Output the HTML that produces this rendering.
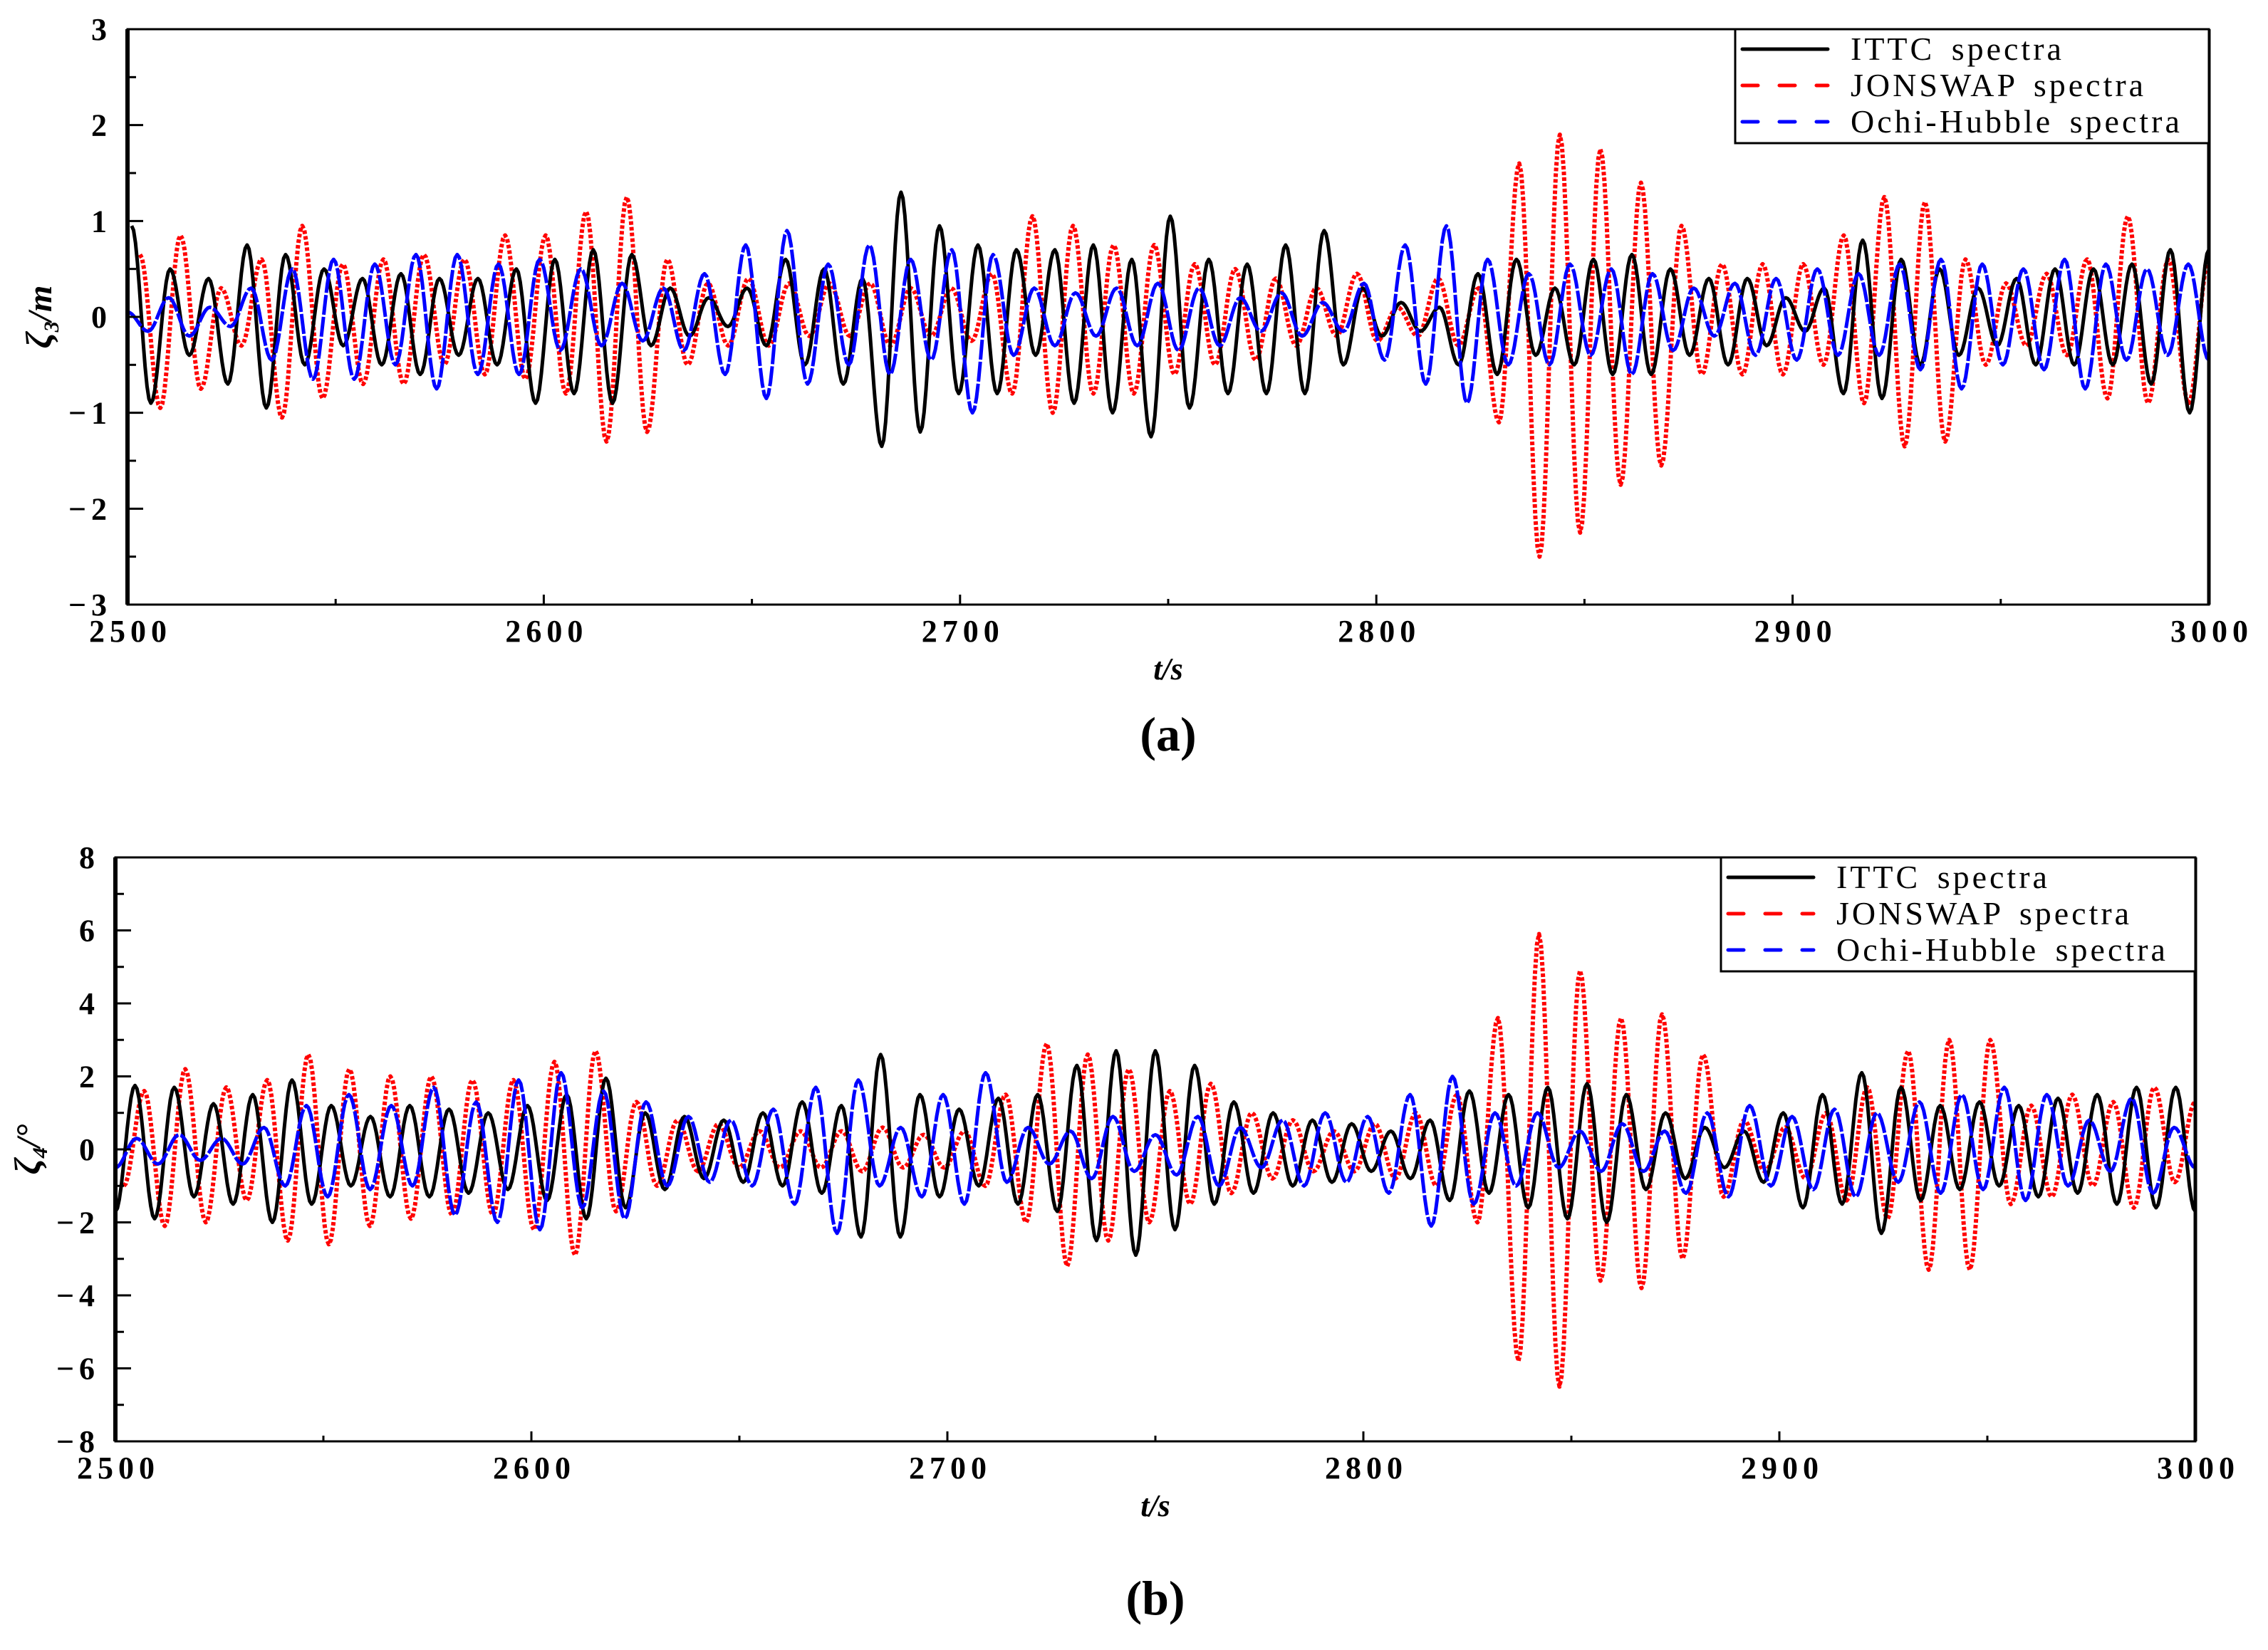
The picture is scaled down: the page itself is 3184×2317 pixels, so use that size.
<!DOCTYPE html>
<html><head><meta charset="utf-8">
<style>
html,body{margin:0;padding:0;background:#fff;}
svg{display:block;}
.tick{font-family:"Liberation Serif",serif;font-weight:bold;font-size:44px;letter-spacing:7px;fill:#000;}
.leg{font-family:"Liberation Serif",serif;font-size:46px;letter-spacing:4px;word-spacing:8px;fill:#000;}
.ttl{font-family:"Liberation Serif",serif;font-weight:bold;font-style:italic;font-size:44px;fill:#000;}
.cap{font-family:"Liberation Serif",serif;font-weight:bold;font-size:68px;fill:#000;}
</style></head>
<body>
<svg id="chart" width="3184" height="2317" viewBox="0 0 3184 2317" xmlns="http://www.w3.org/2000/svg"></svg>
<script>
// ---- Data (extrema of each time series, evenly spaced between tStart and tEnd) ----
const xTicks = [2500, 2600, 2700, 2800, 2900, 3000];
const yTicksA = [-3, -2, -1, 0, 1, 2, 3];
const yTicksB = [-8, -6, -4, -2, 0, 2, 4, 6, 8];
const seriesNames = ["ITTC spectra", "JONSWAP spectra", "Ochi-Hubble spectra"];

const ittcA_range = [2501, 3000];
const ittcA = [0.95,-0.9,0.5,-0.4,0.4,-0.7,0.75,-0.95,0.65,-0.5,0.5,-0.3,0.4,-0.5,0.45,-0.6,0.4,-0.4,0.4,-0.5,0.5,-0.9,0.6,-0.8,0.7,-0.9,0.65,-0.3,0.3,-0.2,0.2,-0.1,0.3,-0.3,0.6,-0.5,0.5,-0.7,0.4,-1.35,1.3,-1.2,0.95,-0.8,0.75,-0.8,0.7,-0.4,0.7,-0.9,0.75,-1.0,0.6,-1.25,1.05,-0.95,0.6,-0.8,0.55,-0.8,0.75,-0.8,0.9,-0.5,0.3,-0.2,0.15,-0.15,0.1,-0.5,0.45,-0.6,0.6,-0.4,0.3,-0.5,0.6,-0.6,0.65,-0.6,0.5,-0.4,0.4,-0.5,0.4,-0.3,0.2,-0.15,0.3,-0.8,0.8,-0.85,0.6,-0.5,0.5,-0.4,0.3,-0.3,0.4,-0.5,0.5,-0.5,0.5,-0.5,0.55,-0.7,0.7,-1.0,0.7];
const jonswapA_range = [2503, 3000];
const jonswapA = [0.65,-0.95,0.85,-0.75,0.3,-0.3,0.6,-1.05,0.95,-0.85,0.55,-0.7,0.6,-0.7,0.65,-0.5,0.6,-0.6,0.85,-0.65,0.85,-0.8,1.1,-1.3,1.25,-1.2,0.6,-0.5,0.35,-0.3,0.4,-0.3,0.35,-0.2,0.35,-0.2,0.35,-0.3,0.3,-0.2,0.3,-0.25,0.45,-0.8,1.05,-1.0,0.95,-0.8,0.75,-0.8,0.75,-0.6,0.55,-0.5,0.5,-0.45,0.4,-0.3,0.3,-0.2,0.45,-0.25,0.1,-0.2,0.4,-0.3,0.3,-1.1,1.6,-2.5,1.9,-2.25,1.75,-1.75,1.4,-1.55,0.95,-0.6,0.55,-0.6,0.55,-0.6,0.55,-0.5,0.85,-0.9,1.25,-1.35,1.2,-1.3,0.6,-0.5,0.35,-0.3,0.45,-0.4,0.6,-0.85,1.05,-0.9,0.6,-0.9,0.6];
const ochiA_range = [2500, 3000];
const ochiA = [0.05,-0.15,0.2,-0.2,0.1,-0.1,0.3,-0.45,0.5,-0.65,0.6,-0.65,0.55,-0.5,0.65,-0.75,0.65,-0.6,0.55,-0.6,0.6,-0.35,0.5,-0.3,0.35,-0.25,0.3,-0.35,0.45,-0.6,0.75,-0.85,0.9,-0.7,0.55,-0.5,0.75,-0.6,0.6,-0.45,0.7,-1.0,0.65,-0.4,0.3,-0.3,0.25,-0.2,0.3,-0.3,0.35,-0.35,0.3,-0.3,0.2,-0.15,0.25,-0.2,0.15,-0.15,0.35,-0.45,0.75,-0.7,0.95,-0.9,0.6,-0.5,0.45,-0.5,0.55,-0.4,0.5,-0.6,0.45,-0.35,0.3,-0.2,0.35,-0.4,0.4,-0.45,0.5,-0.4,0.45,-0.4,0.55,-0.55,0.6,-0.75,0.55,-0.5,0.5,-0.55,0.6,-0.75,0.55,-0.45,0.5,-0.4,0.55,-0.45];

const ittcB_range = [2500, 3000];
const ittcB = [-1.7,1.75,-1.9,1.7,-1.3,1.25,-1.5,1.5,-2.0,1.9,-1.5,1.2,-1.0,0.9,-1.3,1.2,-1.3,1.1,-1.2,1.0,-1.1,1.2,-1.4,1.5,-1.9,1.95,-1.6,1.0,-1.1,0.9,-0.8,0.8,-0.9,1.0,-1.0,1.3,-1.2,1.2,-2.4,2.6,-2.4,1.5,-1.3,1.1,-1.0,1.4,-1.5,1.5,-1.7,2.3,-2.5,2.7,-2.9,2.7,-2.2,2.3,-1.5,1.3,-1.2,1.0,-1.0,0.8,-0.9,0.7,-0.6,0.5,-0.8,0.8,-1.4,1.6,-1.2,1.5,-1.6,1.7,-1.9,1.8,-2.0,1.5,-1.1,1.0,-0.8,0.6,-0.5,0.5,-0.9,1.0,-1.6,1.5,-1.5,2.1,-2.3,1.7,-1.4,1.2,-1.1,1.3,-1.0,1.2,-1.3,1.4,-1.2,1.5,-1.5,1.7,-1.6,1.7,-1.7];
const jonswapB_range = [2502, 3000];
const jonswapB = [-1.0,1.6,-2.1,2.2,-2.0,1.7,-1.4,1.9,-2.5,2.6,-2.6,2.2,-2.1,2.0,-1.9,2.0,-1.8,1.9,-1.8,1.9,-2.2,2.4,-2.9,2.7,-1.7,1.3,-1.0,0.8,-0.6,0.7,-0.5,0.5,-0.5,0.5,-0.5,0.5,-0.6,0.6,-0.5,0.4,-0.5,0.5,-1.0,1.5,-2.0,2.9,-3.2,2.6,-2.5,2.2,-2.0,1.6,-1.5,1.8,-1.2,1.0,-0.8,0.8,-0.6,0.5,-0.6,0.7,-0.8,1.0,-1.0,1.5,-2.0,3.6,-5.8,5.9,-6.5,4.9,-3.6,3.6,-3.8,3.7,-3.0,2.6,-1.3,0.8,-0.6,0.6,-0.8,1.0,-1.4,1.7,-1.9,2.7,-3.3,3.0,-3.3,3.0,-1.5,1.2,-1.3,1.5,-1.0,1.3,-1.6,1.7,-0.9,1.3];
const ochiB_range = [2500, 3000];
const ochiB = [-0.5,0.3,-0.4,0.4,-0.3,0.3,-0.4,0.6,-1.0,1.2,-1.3,1.5,-1.1,1.2,-1.0,1.7,-1.8,1.3,-2.0,1.9,-2.2,2.1,-1.6,1.6,-1.9,1.3,-1.0,0.9,-0.9,0.8,-1.0,1.1,-1.5,1.7,-2.3,1.9,-1.0,0.6,-1.3,1.5,-1.5,2.1,-0.9,0.6,-0.4,0.5,-0.8,0.9,-0.6,0.4,-0.7,0.9,-1.0,0.6,-0.5,0.8,-1.0,1.0,-0.9,0.9,-1.2,1.5,-2.1,2.0,-1.5,1.0,-1.0,1.0,-0.5,0.5,-0.6,0.7,-0.6,0.5,-1.2,1.0,-1.3,1.2,-1.0,0.9,-1.1,1.1,-1.3,1.0,-0.9,1.3,-1.2,1.5,-1.1,1.7,-1.4,1.5,-1.0,0.8,-0.6,1.4,-1.2,0.6,-0.5];

// ---- Rendering ----
const NS = "http://www.w3.org/2000/svg";
const svg = document.getElementById("chart");
function mk(tag, attrs, parent) {
  const e = document.createElementNS(NS, tag);
  for (const k in attrs) e.setAttribute(k, attrs[k]);
  (parent || svg).appendChild(e);
  return e;
}

function drawPanel(cfg) {
  const g = mk("g", {});
  
  
  const L = cfg.left, R = cfg.right, T = cfg.top, B = cfg.bottom;
  const xs = t => L + (t - 2500) / 500 * (R - L);
  const ys = v => B - (v - cfg.ymin) / (cfg.ymax - cfg.ymin) * (B - T);

  const clipId = "clip-" + cfg.name;
  const cp = mk("clipPath", {id: clipId}, g);
  mk("rect", {x: L, y: T, width: R - L, height: B - T}, cp);

  const styles = [
    {color: "#000", dash: "none", width: 5},
    {color: "#ff0000", dash: "5,3", width: 6},
    {color: "#0000ff", dash: "28,3", width: 5}
  ];
  const seriesKeys = ["ittc", "jonswap", "ochi"];
  const dataList = [[cfg.s1, cfg.r1], [cfg.s2, cfg.r2], [cfg.s3, cfg.r3]];
  const lg = mk("g", {"clip-path": "url(#" + clipId + ")"}, g);
  [1, 0, 2].forEach(si => {
    const vals = dataList[si][0], rng = dataList[si][1];
    const n = vals.length, dt = (rng[1] - rng[0]) / (n - 1);
    let d = "M" + xs(rng[0]).toFixed(1) + "," + ys(vals[0]).toFixed(1);
    for (let i = 0; i < n - 1; i++) {
      const t0 = rng[0] + i * dt, v0 = vals[i], v1 = vals[i + 1];
      for (let k = 1; k <= 10; k++) {
        const f = k / 10, w = (1 - Math.cos(Math.PI * f)) / 2;
        d += "L" + xs(t0 + f * dt).toFixed(1) + "," + ys(v0 + (v1 - v0) * w).toFixed(1);
      }
    }
    const st = styles[si];
    const p = mk("path", {d: d, fill: "none", stroke: st.color, "stroke-width": st.width, "stroke-dasharray": st.dash, "stroke-linejoin": "round"}, lg);
    
    
  });

  const fr = mk("rect", {x: L, y: T, width: R - L, height: B - T, fill: "none", stroke: "#000", "stroke-width": 3}, g);
  
  
  const ya = mk("line", {x1: L, y1: T, x2: L, y2: B, stroke: "#000", "stroke-width": 6}, g);
  
  
  mk("line", {x1: R, y1: T, x2: R, y2: B, stroke: "#000", "stroke-width": 5}, g);

  const yt = cfg.yTicks;
  for (let i = 0; i < yt.length; i++) {
    const y = ys(yt[i]);
    mk("line", {x1: L, y1: y, x2: L + 22, y2: y, stroke: "#000", "stroke-width": 3}, g);
    if (i < yt.length - 1) {
      const ym = ys((yt[i] + yt[i + 1]) / 2);
      mk("line", {x1: L, y1: ym, x2: L + 12, y2: ym, stroke: "#000", "stroke-width": 3}, g);
    }
    const tx = mk("text", {x: L - 22, y: y + 15, "text-anchor": "end", class: "tick"}, g);
    tx.textContent = yt[i] < 0 ? "\u2212" + Math.abs(yt[i]) : String(yt[i]);
    
    
  }
  for (let i = 0; i < xTicks.length; i++) {
    const x = xs(xTicks[i]);
    mk("line", {x1: x, y1: B, x2: x, y2: B - 14, stroke: "#000", "stroke-width": 3}, g);
    if (i < xTicks.length - 1) {
      const xm = xs((xTicks[i] + xTicks[i + 1]) / 2);
      mk("line", {x1: xm, y1: B, x2: xm, y2: B - 8, stroke: "#000", "stroke-width": 3}, g);
    }
    const tx = mk("text", {x: x + 4, y: B + 52, "text-anchor": "middle", class: "tick"}, g);
    tx.textContent = String(xTicks[i]);
    
    
  }
  const xt = mk("text", {x: (L + R) / 2, y: B + 105, "text-anchor": "middle", class: "ttl"}, g);
  xt.textContent = "t/s";
  
  
  const ytt = mk("text", {x: 0, y: 0, "text-anchor": "middle", class: "ttl", transform: "translate(" + cfg.ytX + "," + ((T + B) / 2) + ") rotate(-90)"}, g);
  
  
  const s1 = mk("tspan", {"font-size": 52}, ytt); s1.textContent = "\u03B6";
  const s2 = mk("tspan", {dy: 10, "font-size": 30}, ytt); s2.textContent = cfg.sub;
  const s3 = mk("tspan", {dy: -10, "font-size": 48}, ytt); s3.textContent = cfg.unit;

  const lgd = mk("g", {}, g);
  
  
  mk("rect", {x: cfg.legX, y: T, width: R - cfg.legX, height: 160, fill: "#fff", stroke: "#000", "stroke-width": 3}, lgd);
  const legDash = ["none", "22,30", "22,30"];
  for (let i = 0; i < 3; i++) {
    const y = T + 28 + i * 51;
    const en = mk("g", {}, lgd);
    
    
    mk("line", {x1: cfg.legX + 10, y1: y, x2: cfg.legX + 130, y2: y, stroke: styles[i].color, "stroke-width": 5, "stroke-dasharray": legDash[i], "stroke-linecap": "round"}, en);
    const t = mk("text", {x: cfg.legX + 162, y: y + 15, class: "leg"}, en);
    t.textContent = seriesNames[i];
  }
  const cap = mk("text", {x: (L + R) / 2, y: cfg.capY, "text-anchor": "middle", class: "cap"}, g);
  cap.textContent = cfg.caption;
  
  
}

drawPanel({name: "panel-a-heave", left: 179, right: 3101, top: 41, bottom: 849, ymin: -3, ymax: 3, yTicks: yTicksA,
  s1: ittcA, r1: ittcA_range, s2: jonswapA, r2: jonswapA_range, s3: ochiA, r3: ochiA_range,
  legX: 2436, ytX: 72, sub: "3", unit: "/m", caption: "(a)", capY: 1054});
drawPanel({name: "panel-b-roll", left: 162, right: 3082, top: 1204, bottom: 2024, ymin: -8, ymax: 8, yTicks: yTicksB,
  s1: ittcB, r1: ittcB_range, s2: jonswapB, r2: jonswapB_range, s3: ochiB, r3: ochiB_range,
  legX: 2416, ytX: 56, sub: "4", unit: "/\u00B0", caption: "(b)", capY: 2267});
</script>
</body></html>
